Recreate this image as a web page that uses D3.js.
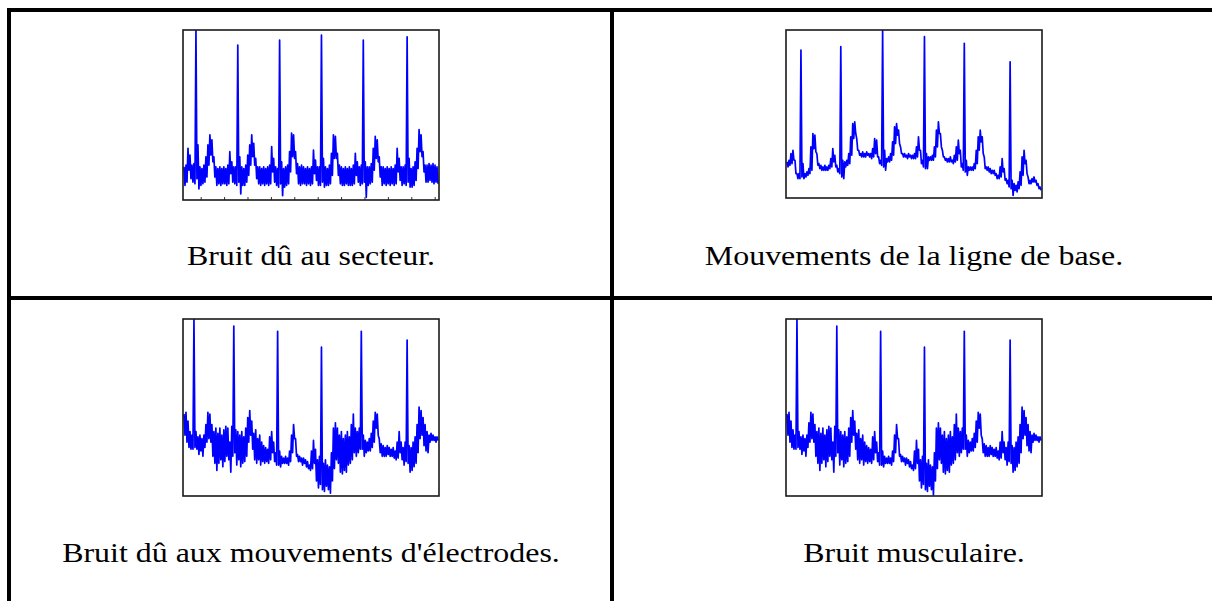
<!DOCTYPE html>
<html><head><meta charset="utf-8">
<script src="https://cdn.jsdelivr.net/npm/d3@7"></script>
<style>html,body{margin:0;padding:0;background:#fff;} svg{display:block;}</style>
</head><body><svg id="c" width="1212" height="601"></svg>
<script>
// ---------- data (amplitude in % of panel height, one sample every ~2 px) ----------
const captions = ["Bruit dû au secteur.", "Mouvements de la ligne de base.",
                  "Bruit dû aux mouvements d'électrodes.", "Bruit musculaire."];

// Panel 1 : bruit dû au secteur (upper / lower envelope of each sample)
const secteurHi = [19,20,30,26,20,21,100,32,19,18, 20,25,32,38,35,25,19,18,19,18,
  19,18,20,28,22,19,19,91,25,19, 18,20,26,32,38,33,24,19,19,18,
  19,18,19,20,31,24,19,18,94,22, 18,19,20,28,39,38,28,21,19,20,
  19,18,19,18,19,29,23,19,19,97, 24,19,18,20,27,38,37,27,20,19,
  18,19,18,19,18,20,27,22,19,20, 94,22,19,19,21,30,37,35,25,19,
  19,18,19,18,19,18,20,30,24,19, 19,20,96,24,18,19,22,30,41,38,
  28,20,20,21,20,21,20,19];
const secteurLo = [8,10,17,12,10,9,12,6,8,9, 10,13,20,26,22,13,8,9,8,9,
  9,8,9,15,10,9,8,10,3,8, 8,10,14,20,25,20,12,9,8,9,
  8,9,8,9,16,10,8,7,9,2, 7,8,9,16,25,24,15,9,8,9,
  9,8,9,8,9,15,11,8,8,10, 7,8,8,9,14,24,24,14,9,8,
  8,9,8,8,8,9,14,10,8,9, 10,1,8,9,10,17,24,22,13,8,
  9,8,9,8,9,8,9,16,11,8, 9,8,10,7,7,8,11,18,28,25,
  16,10,10,11,10,9,10,9];
// time ticks of panel 1 (s)
const secteurTicks = [0.5,1,1.5,2,2.5,3,3.5,4,4.5,5,5.5];
const secteurTime = [0.122, 5.592];

// Panel 2 : mouvements de la ligne de base
const baseHi = [21,22,26,28,22,14,14,88,20,14, 15,17,30,38,37,26,20,19,18,19,
  18,19,23,29,25,19,17,90,22,21, 22,26,36,44,45,35,28,26,27,26,
  27,26,26,29,35,34,24,22,100,28, 23,24,26,33,42,44,40,30,26,26,
  25,26,25,25,26,30,36,28,22,96, 26,24,24,25,30,40,45,38,28,24,
  23,23,24,22,25,30,34,28,20,92, 22,18,18,18,20,28,36,40,36,24,
  18,18,17,16,16,14,13,18,23,17, 11,10,81,10,8,7,9,15,24,28,
  22,12,10,11,12,10,8,6];
const baseLo = [18,19,20,22,14,11,11,12,11,12, 13,14,16,29,27,19,17,16,16,16,
  16,17,18,21,18,15,14,12,11,18, 19,20,25,35,38,28,25,24,24,24,
  25,24,23,24,26,24,20,19,18,16, 21,21,22,25,32,37,32,26,24,24,
  23,24,23,23,23,24,28,20,18,17, 17,22,22,22,24,30,38,30,24,22,
  21,21,21,20,21,22,26,18,16,15, 13,16,16,16,17,20,28,33,26,17,
  16,15,14,14,13,11,11,12,15,10, 8,6,5,1,4,3,5,7,13,20,
  14,8,8,9,9,7,5,4];

// Panel 3 : bruit dû aux mouvements d'électrodes
const electrodeHi = [46,47,42,36,34,100,36,33,34,32, 34,40,47,46,40,36,38,35,38,34,
  37,39,38,30,39,96,37,36,34,36, 33,38,44,48,42,35,37,32,34,30,
  28,27,26,33,36,30,24,93,25,22, 21,22,21,25,34,40,32,23,22,21,
  21,20,19,17,25,31,26,20,22,84, 18,20,17,16,24,38,41,38,34,36,
  32,34,36,33,40,46,38,36,38,93, 34,31,30,32,35,42,47,46,32,29,
  28,27,28,27,26,27,25,30,36,30, 27,30,88,28,27,30,33,40,50,48,
  44,40,36,34,35,34,33,33];
const electrodeLo = [34,30,27,26,26,27,26,23,25,22, 27,30,32,30,22,18,14,18,20,16,
  19,22,20,13,22,24,17,20,16,18, 19,22,30,34,26,20,18,20,17,19,
  18,19,18,20,24,19,17,17,16,18, 18,18,17,19,24,32,22,19,19,17,
  18,16,15,14,15,18,8,4,6,3, 2,5,3,1,8,15,20,18,13,12,
  14,13,17,18,20,24,22,24,26,26, 22,24,25,25,27,30,38,34,24,22,
  22,22,23,22,22,21,20,21,24,20, 17,19,18,13,14,16,18,24,32,34,
  28,25,24,30,31,31,30,31];

// Panel 4 : bruit musculaire
const muscleHi = [46,47,42,37,34,100,36,33,34,32, 34,41,47,46,40,36,38,35,38,34,
  37,39,38,30,39,96,37,36,34,36, 33,38,44,48,42,35,37,32,34,30,
  28,27,26,33,36,30,24,93,25,22, 21,22,21,25,34,40,32,23,22,21,
  21,20,19,17,25,31,26,20,22,84, 18,20,17,16,24,38,41,38,34,36,
  32,34,36,33,40,46,38,36,38,93, 34,31,30,32,35,42,47,46,32,29,
  28,27,28,27,26,27,25,30,36,30, 27,30,88,28,27,30,33,40,50,48,
  44,40,36,34,35,34,33,33];
const muscleLo = [34,30,27,26,26,27,26,23,25,22, 27,30,32,30,22,18,14,18,20,16,
  19,22,20,13,22,24,17,20,16,18, 19,22,30,34,26,20,18,20,17,19,
  18,19,18,20,24,19,17,17,16,18, 18,18,17,19,24,32,22,19,19,17,
  18,16,15,14,15,18,8,4,6,3, 2,5,3,0,8,15,20,18,13,12,
  14,13,17,18,20,24,22,24,26,26, 22,24,25,25,27,30,38,34,24,22,
  22,22,23,22,22,21,20,21,24,20, 17,19,18,13,14,16,18,24,32,34,
  28,25,24,30,31,31,30,31];

// ---------- drawing ----------
const svg = d3.select('#c');
const W = 1212, H = 601;

const panels = [
  {hi: secteurHi, lo: secteurLo, box: {x:183, y:30, w:256, h:170}, ticks: true, cx: 311, by: 265},
  {hi: baseHi, lo: baseLo, box: {x:786, y:30, w:256, h:168}, ticks: false, cx: 914, by: 265},
  {hi: electrodeHi, lo: electrodeLo, box: {x:183, y:319, w:256, h:177}, ticks: false, cx: 311, by: 562},
  {hi: muscleHi, lo: muscleLo, box: {x:786, y:319, w:256, h:177}, ticks: false, cx: 914, by: 562}
];

// table rules
const rules = [
  {x1:7, y1:10, x2:W, y2:10},
  {x1:9, y1:8, x2:9, y2:H},
  {x1:612, y1:8, x2:612, y2:H},
  {x1:7, y1:298, x2:W, y2:298}
];
svg.selectAll('line.rule').data(rules).join('line').attr('class','rule')
  .attr('x1',d=>d.x1).attr('y1',d=>d.y1).attr('x2',d=>d.x2).attr('y2',d=>d.y2)
  .attr('stroke','#000').attr('stroke-width',4);

const defs = svg.append('defs');

panels.forEach((p, k) => {
  const b = p.box;
  const g = svg.append('g');
  const n = p.hi.length;
  const x = d3.scaleLinear().domain([0, n - 0.5]).range([b.x + 1, b.x + b.w - 1]);
  const y = d3.scaleLinear().domain([0, 100]).range([b.y + b.h - 1, b.y]);
  const pts = [];
  p.hi.forEach((h, i) => { pts.push([i, h]); pts.push([i + 0.5, p.lo[i]]); });

  defs.append('clipPath').attr('id', 'clip' + k).append('rect')
    .attr('x', b.x).attr('y', b.y).attr('width', b.w).attr('height', b.h);

  g.append('path').datum(pts)
    .attr('clip-path', `url(#clip${k})`)
    .attr('fill', 'none').attr('stroke', '#0000ff').attr('stroke-width', 1.7)
    .attr('stroke-linejoin', 'round')
    .attr('d', d3.line().x(d => x(d[0])).y(d => y(d[1])));

  if (p.ticks) {
    const t = d3.scaleLinear().domain(secteurTime).range([b.x, b.x + b.w]);
    const ax = g.append('g').attr('transform', `translate(0,${b.y + b.h})`)
      .call(d3.axisBottom(t).tickValues(secteurTicks).tickSize(-3).tickFormat(''));
    ax.select('.domain').remove();
    ax.selectAll('line').attr('stroke', '#333');
  }

  g.append('rect').attr('x', b.x).attr('y', b.y).attr('width', b.w).attr('height', b.h)
    .attr('fill', 'none').attr('stroke', '#1a1a1a').attr('stroke-width', 1.6);

  g.append('text').attr('transform', `translate(${p.cx},${p.by}) scale(1.14,1)`)
    .attr('text-anchor', 'middle')
    .attr('font-family', "'Liberation Serif','Times New Roman',serif")
    .attr('font-size', 28).attr('fill', '#000')
    .text(captions[k]);
});
</script></body></html>
